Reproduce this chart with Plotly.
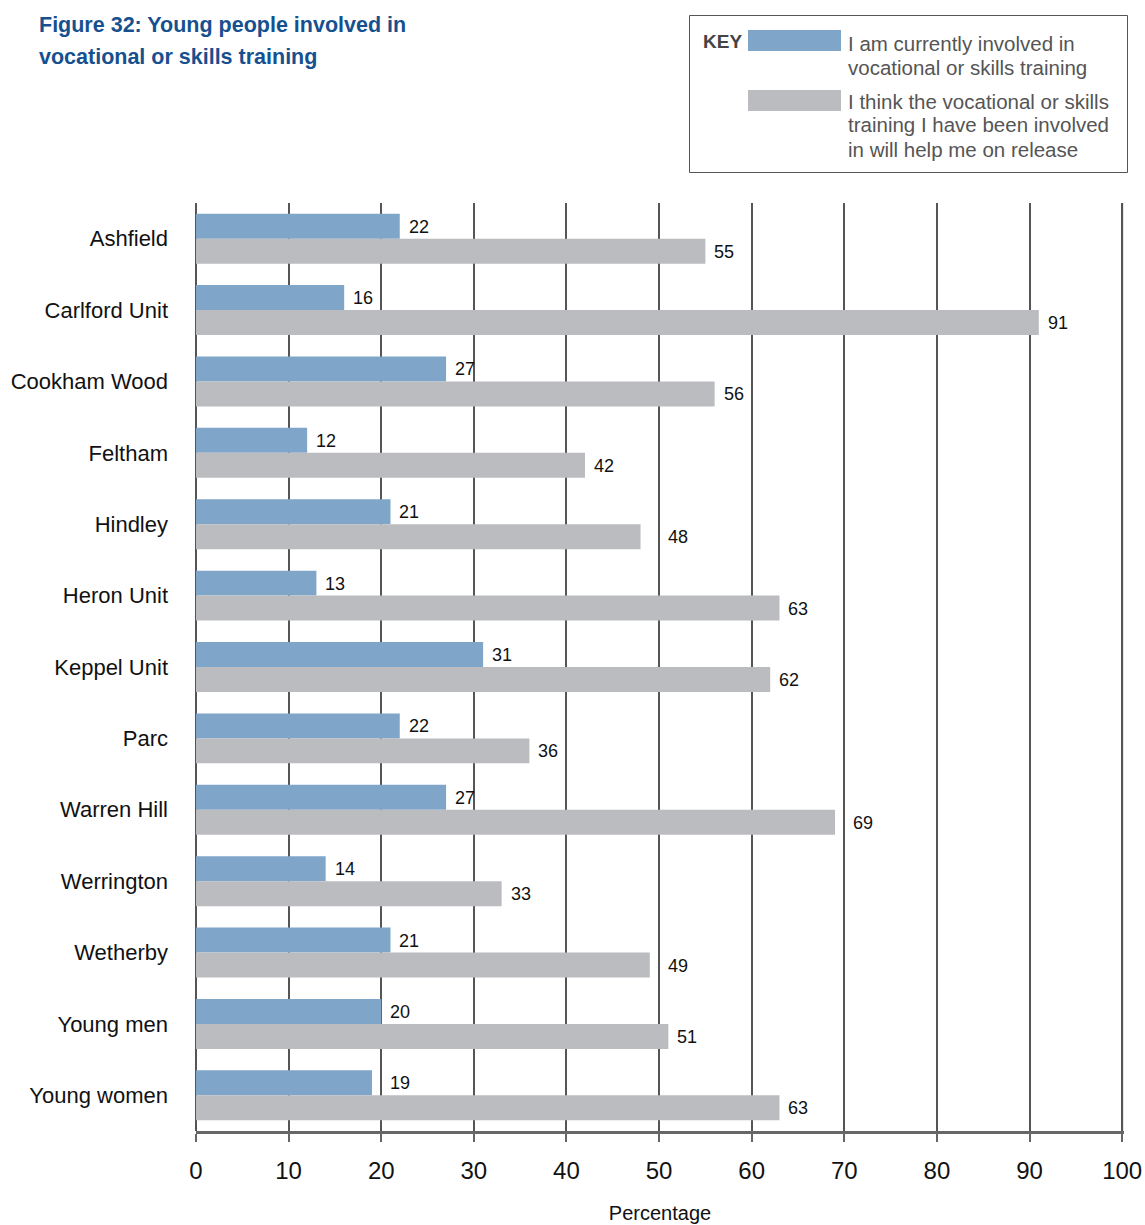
import plotly.graph_objects as go
import math

categories = ["Ashfield", "Carlford Unit", "Cookham Wood", "Feltham", "Hindley",
              "Heron Unit", "Keppel Unit", "Parc", "Warren Hill", "Werrington",
              "Wetherby", "Young men", "Young women"]
currently_involved = [22, 16, 27, 12, 21, 13, 31, 22, 27, 14, 21, 20, 19]
will_help = [55, 91, 56, 42, 48, 63, 62, 36, 69, 33, 49, 51, 63]
x_ticks = [0, 10, 20, 30, 40, 50, 60, 70, 80, 90, 100]

series1_lines = ["I am currently involved in", "vocational or skills training"]
series2_lines = ["I think the vocational or skills", "training I have been involved",
                 "in will help me on release"]

BLUE = "#7fa5c8"
GREY = "#bbbcc0"
FONT = "Liberation Sans, Arial, Helvetica, sans-serif"

W, H = 1145, 1225
ML, MR, MT, MB = 196, 21, 203, 94
PW = W - ML - MR
PH = H - MT - MB
X_MAX = 100.2
px_per_unit = PW / X_MAX

fig = go.Figure()
fig.add_trace(go.Bar(y=categories, x=currently_involved, orientation="h",
                     marker=dict(color=BLUE, line=dict(width=0)), name="s1", showlegend=False))
fig.add_trace(go.Bar(y=categories, x=will_help, orientation="h",
                     marker=dict(color=GREY, line=dict(width=0)), name="s2", showlegend=False))

annotations = []
def label_shift(v):
    nxt = math.ceil(v / 10.0) * 10
    if nxt != v and nxt - v <= 2:
        return (nxt - v) * px_per_unit + 7
    return 7

for cat, v in zip(categories, currently_involved):
    annotations.append(dict(x=v, y=cat, xref="x", yref="y", text=str(v), showarrow=False,
                            xanchor="left", yanchor="middle", xshift=label_shift(v), yshift=12,
                            font=dict(family=FONT, size=18, color="#111")))
for cat, v in zip(categories, will_help):
    annotations.append(dict(x=v, y=cat, xref="x", yref="y", text=str(v), showarrow=False,
                            xanchor="left", yanchor="middle", xshift=label_shift(v), yshift=-13,
                            font=dict(family=FONT, size=18, color="#111")))

def px(xp):
    return (xp - ML) / PW
def py(yp):
    return (H - MB - yp) / PH

shapes = [
    # gridline at the last tick (plotly omits the one at the range edge)
    dict(type="line", xref="x", yref="paper", x0=x_ticks[-1], x1=x_ticks[-1], y0=0, y1=1,
         line=dict(color="#555", width=2), layer="above"),
    dict(type="rect", xref="paper", yref="paper", x0=px(689.5), x1=px(1127.5), y0=py(172.5), y1=py(15.5),
         line=dict(color="#555", width=1), fillcolor="white", layer="above"),
    dict(type="rect", xref="paper", yref="paper", x0=px(748), x1=px(841), y0=py(51), y1=py(30),
         line=dict(width=0), fillcolor=BLUE, layer="above"),
    dict(type="rect", xref="paper", yref="paper", x0=px(748), x1=px(841), y0=py(111), y1=py(90),
         line=dict(width=0), fillcolor=GREY, layer="above"),
]

annotations.append(dict(x=px(701), y=py(41), xref="paper", yref="paper", text="<b>KEY</b>", showarrow=False,
                        xanchor="left", yanchor="middle", font=dict(family=FONT, size=19, color="#444")))
for i, line in enumerate(series1_lines):
    annotations.append(dict(x=px(846), y=py(43 + 24 * i), xref="paper", yref="paper", text=line,
                            showarrow=False, xanchor="left", yanchor="middle",
                            font=dict(family=FONT, size=20.5, color="#555")))
for i, line in enumerate(series2_lines):
    annotations.append(dict(x=px(846), y=py(101 + 24 * i), xref="paper", yref="paper", text=line,
                            showarrow=False, xanchor="left", yanchor="middle",
                            font=dict(family=FONT, size=20.5, color="#555")))
title_lines = ["Figure 32: Young people involved in", "vocational or skills training"]
for i, line in enumerate(title_lines):
    annotations.append(dict(x=px(37), y=py(25 + 32 * i), xref="paper", yref="paper",
                            text="<b>" + line + "</b>", showarrow=False, xanchor="left", yanchor="middle",
                            font=dict(family=FONT, size=21.5, color="#16508f")))

fig.update_layout(
    width=W, height=H,
    margin=dict(l=ML, r=MR, t=MT, b=MB, autoexpand=False),
    paper_bgcolor="white", plot_bgcolor="white",
    barmode="group", bargap=0.3, bargroupgap=0,
    shapes=shapes, annotations=annotations,
    showlegend=False,
    font=dict(family=FONT, color="#111"),
)
fig.update_xaxes(
    range=[0, X_MAX], tickvals=x_ticks, ticktext=[str(t) for t in x_ticks],
    showgrid=True, gridcolor="#555", gridwidth=2,
    zeroline=True, zerolinecolor="#555", zerolinewidth=2,
    showline=True, linecolor="#666", linewidth=3, mirror=False,
    ticks="outside", ticklen=8, tickwidth=2, tickcolor="#666",
    tickfont=dict(family=FONT, size=24, color="#111"),
    ticklabelstandoff=8,
    title=dict(text="Percentage", font=dict(family=FONT, size=20, color="#111"), standoff=24),
    fixedrange=True,
)
fig.update_yaxes(
    categoryorder="array", categoryarray=categories, autorange="reversed",
    showgrid=False, zeroline=False, showline=False, ticks="",
    tickfont=dict(family=FONT, size=22, color="#111"),
    ticklabelstandoff=27,
    fixedrange=True,
)
fig.write_html("out.html")
